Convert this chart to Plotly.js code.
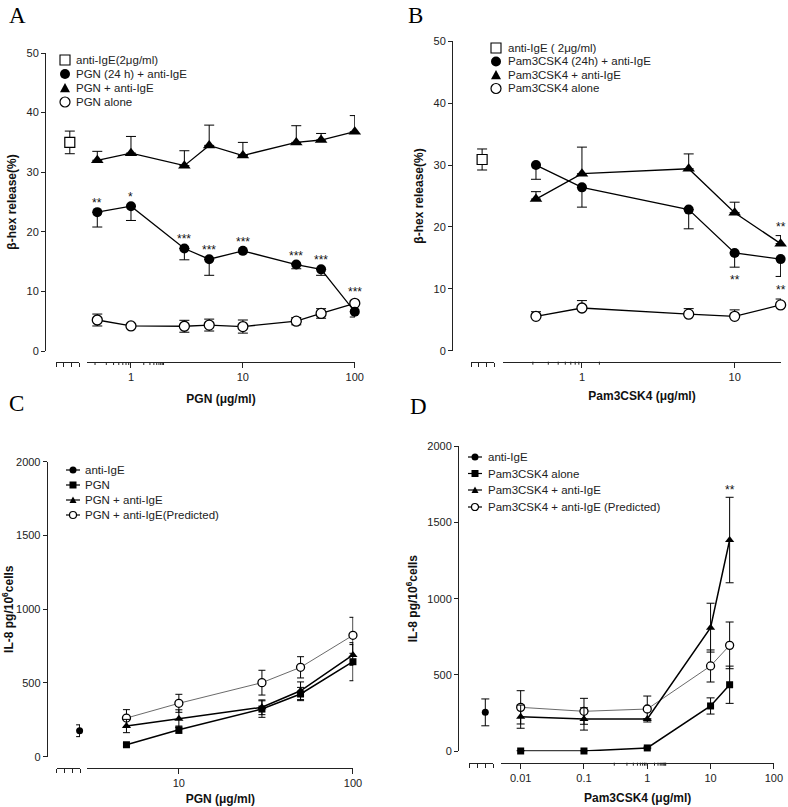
<!DOCTYPE html>
<html><head><meta charset="utf-8">
<script src="https://cdn.plot.ly/plotly-3.0.1.min.js"></script>
<style>html,body{margin:0;padding:0;background:#fff}#plot{width:788px;height:807px}</style>
</head><body><div id="plot"></div>
<script>
// ---------------- DATA ----------------
// Panel A: beta-hex release vs PGN
const A_x = [0.5, 1, 3, 5, 10, 30, 50, 100];
const A_pgn24 = [23.3, 24.3, 17.2, 15.4, 16.8, 14.5, 13.7, 6.6];
const A_pgn24_errDown = [2.5, 2.4, 1.9, 2.7, 0.3, 0.7, 1.0, 0.9];
const A_pgnIgE = [32.0, 33.2, 31.1, 34.5, 32.8, 35.0, 35.4, 36.8];
const A_pgnIgE_errUp = [1.5, 2.8, 2.5, 3.4, 2.2, 2.8, 1.1, 2.7];
const A_pgnAlone = [5.2, 4.2, 4.15, 4.35, 4.1, 5.0, 6.3, 8.0];
const A_pgnAlone_err = [1.0, 0.2, 1.0, 1.0, 1.1, 0.6, 0.8, 0.4];
const A_ctrl_x = [1.8];
const A_ctrl = [35.0];
const A_ctrl_err = [1.9];
const A_sig = ['**', '*', '***', '***', '***', '***', '***', '***'];
const A_ticks = [1, 10, 100];
const A_legend = ['anti-IgE(2\u03bcg/ml)', 'PGN (24 h) + anti-IgE', 'PGN + anti-IgE', 'PGN alone'];

// Panel B: beta-hex release vs Pam3CSK4
const B_x = [0.5, 1, 5, 10, 20];
const B_pam24 = [30.0, 26.4, 22.8, 15.8, 14.8];
const B_pam24_errDown = [2.3, 3.2, 3.1, 2.3, 2.8];
const B_pamIgE = [24.5, 28.6, 29.4, 22.3, 17.3];
const B_pamIgE_errUp = [1.2, 4.3, 2.4, 1.7, 1.3];
const B_pamAlone = [5.55, 6.9, 5.9, 5.55, 7.4];
const B_pamAlone_errUp = [0.75, 1.2, 0.9, 1.05, 0.95];
const B_ctrl_x = [1.45];
const B_ctrl = [30.9];
const B_ctrl_err = [1.7];
const B_sig_x = [10, 20, 20];
const B_sig_series = ['pam24', 'pamIgE', 'pamAlone'];
const B_sig_text = ['**', '**', '**'];
const B_ticks = [1, 10];
const B_legend = ['anti-IgE ( 2\u03bcg/ml)', 'Pam3CSK4 (24h) + anti-IgE', 'Pam3CSK4 + anti-IgE', 'Pam3CSK4 alone'];

// Panel C: IL-8 vs PGN
const C_x = [5, 10, 30, 50, 100];
const C_pgn = [81, 183, 323, 425, 644];
const C_pgn_err = [10, 25, 56, 45, 129];
const C_pgnIgE = [208, 258, 335, 447, 690];
const C_pgnIgE_err = [45, 60, 50, 60, 70];
const C_pred = [262, 362, 502, 606, 823];
const C_pred_err = [57, 61, 84, 72, 122];
const C_ctrl_x = [2.95];
const C_ctrl = [176];
const C_ctrl_err = [40];
const C_ticks = [10, 100];
const C_legend = ['anti-IgE', 'PGN', 'PGN + anti-IgE', 'PGN + anti-IgE(Predicted)'];

// Panel D: IL-8 vs Pam3CSK4
const D_x = [0.01, 0.1, 1, 10, 20];
const D_pam = [2, 2, 22, 297, 436];
const D_pam_err = [2, 2, 5, 53, 122];
const D_pamIgE = [227, 212, 212, 810, 1384];
const D_pamIgE_err = [76, 73, 0, 160, 280];
const D_pred = [288, 262, 277, 559, 694];
const D_pred_err = [109, 85, 85, 105, 153];
const D_ctrl_x = [2.0];
const D_ctrl = [255];
const D_ctrl_err = [88];
const D_sig_x = [20];
const D_sig_text = ['**'];
const D_ticks = [0.01, 0.1, 1, 10, 100];
const D_legend = ['anti-IgE', 'Pam3CSK4 alone', 'Pam3CSK4 + anti-IgE', 'Pam3CSK4 + anti-IgE (Predicted)'];

// ---------------- HELPERS ----------------
const W = 788, H = 807;
const fx = p => p / W;
const fy = p => 1 - p / H;
const F = 'Liberation Sans, Arial, sans-serif';
const zeros = a => a.map(() => 0);

function err(up, down, w) {
  return {type: 'data', symmetric: false, array: up, arrayminus: down, width: w, thickness: 1, color: '#000'};
}
function tr(name, xa, ya, x, y, e, sym, opts) {
  return Object.assign({
    type: 'scatter', name: name, x: x, y: y, xaxis: xa, yaxis: ya, showlegend: false,
    mode: 'lines+markers', cliponaxis: false, hoverinfo: 'skip',
    line: {color: '#000', width: 1.3}, error_y: e,
    marker: sym
  }, opts || {});
}
const filledCircle = s => ({symbol: 'circle', size: s, color: '#000', line: {color: '#000', width: 0}});
const openCircle = s => ({symbol: 'circle', size: s, color: '#fff', line: {color: '#000', width: 1.3}});
const filledTri = s => ({symbol: 'triangle-up', size: s, color: '#000', line: {color: '#000', width: 0}});
const openSquare = s => ({symbol: 'square', size: s, color: '#fff', line: {color: '#000', width: 1.2}});
const filledSquare = s => ({symbol: 'square', size: s, color: '#000', line: {color: '#000', width: 0}});

const traces = [];
// Panel A
traces.push(tr('anti-IgE(2μg/ml)', 'x', 'y', A_ctrl_x, A_ctrl, err(A_ctrl_err, A_ctrl_err, 5), openSquare(10), {mode: 'markers'}));
traces.push(tr('PGN alone', 'x2', 'y', A_x, A_pgnAlone, err(A_pgnAlone_err, A_pgnAlone_err, 5), openCircle(10)));
traces.push(tr('PGN + anti-IgE', 'x2', 'y', A_x, A_pgnIgE, err(A_pgnIgE_errUp, zeros(A_x), 5), filledTri(11)));
traces.push(tr('PGN (24 h) + anti-IgE', 'x2', 'y', A_x, A_pgn24, err(zeros(A_x), A_pgn24_errDown, 5), filledCircle(10)));
// Panel B
traces.push(tr('anti-IgE ( 2μg/ml)', 'x3', 'y3', B_ctrl_x, B_ctrl, err(B_ctrl_err, B_ctrl_err, 5), openSquare(10), {mode: 'markers'}));
traces.push(tr('Pam3CSK4 alone', 'x4', 'y3', B_x, B_pamAlone, err(B_pamAlone_errUp, zeros(B_x), 5), openCircle(10)));
traces.push(tr('Pam3CSK4 + anti-IgE', 'x4', 'y3', B_x, B_pamIgE, err(B_pamIgE_errUp, zeros(B_x), 5), filledTri(11)));
traces.push(tr('Pam3CSK4 (24h) + anti-IgE', 'x4', 'y3', B_x, B_pam24, err(zeros(B_x), B_pam24_errDown, 5), filledCircle(10)));
// Panel C
traces.push(tr('anti-IgE', 'x5', 'y5', C_ctrl_x, C_ctrl, err(C_ctrl_err, C_ctrl_err, 3.5), filledCircle(7), {mode: 'markers'}));
traces.push(tr('PGN + anti-IgE(Predicted)', 'x6', 'y5', C_x, C_pred, err(C_pred_err, C_pred_err, 3.5), openCircle(8), {line: {color: '#444', width: 0.8}}));
traces.push(tr('PGN', 'x6', 'y5', C_x, C_pgn, err(C_pgn_err, C_pgn_err, 3.5), filledSquare(7), {line: {color: '#000', width: 1.5}}));
traces.push(tr('PGN + anti-IgE', 'x6', 'y5', C_x, C_pgnIgE, err(C_pgnIgE_err, C_pgnIgE_err, 3.5), filledTri(8), {line: {color: '#000', width: 1.5}}));
// Panel D
traces.push(tr('anti-IgE', 'x7', 'y7', D_ctrl_x, D_ctrl, err(D_ctrl_err, D_ctrl_err, 4), filledCircle(7), {mode: 'markers'}));
traces.push(tr('Pam3CSK4 + anti-IgE (Predicted)', 'x8', 'y7', D_x, D_pred, err(D_pred_err, D_pred_err, 4), openCircle(8), {line: {color: '#444', width: 0.8}}));
traces.push(tr('Pam3CSK4 alone', 'x8', 'y7', D_x, D_pam, err(D_pam_err, D_pam_err, 4), filledSquare(7), {line: {color: '#000', width: 1.5}}));
traces.push(tr('Pam3CSK4 + anti-IgE', 'x8', 'y7', D_x, D_pamIgE, err(D_pamIgE_err, D_pamIgE_err, 4), filledTri(8), {line: {color: '#000', width: 1.5}}));

// ---------------- AXES ----------------
function ax(extra) {
  return Object.assign({
    showgrid: false, zeroline: false, showline: true, linecolor: '#222', linewidth: 1,
    ticks: 'outside', ticklen: 4, tickwidth: 1, tickcolor: '#222',
    tickfont: {family: F, size: 11, color: '#222'}, fixedrange: true, anchor: 'free'
  }, extra);
}
const titleFont = {family: F, size: 12, color: '#111', weight: 'bold'};
function ctrlAx(d0, d1, ypos) {
  return ax({domain: [fx(d0), fx(d1)], position: fy(ypos), range: [0, 3], tickmode: 'array', tickvals: [0, 1, 2, 3], showticklabels: false});
}
function logAx(d0, d1, ypos, r, majors, title, standoff) {
  return ax({domain: [fx(d0), fx(d1)], position: fy(ypos), type: 'log', range: r, tickmode: 'array',
    tickvals: majors, ticktext: majors.map(String), ticklen: 5,
    title: {text: title, font: titleFont, standoff: standoff}});
}
function yAx(top, bottom, xpos, r, dt, title) {
  return ax({domain: [fy(bottom), fy(top)], position: fx(xpos), range: r, dtick: dt,
    title: {text: title, font: titleFont, standoff: 6}});
}
const rA = [-0.393, 2.002], rB = [-0.517, 1.3035], rC = [0.474, 2.002], rD = [-2.306, 2.002];

const layout = {
  width: W, height: H, margin: {l: 0, r: 0, t: 0, b: 0},
  paper_bgcolor: '#fff', plot_bgcolor: 'rgba(0,0,0,0)', showlegend: false,
  font: {family: F, color: '#222'},
  yaxis: yAx(53, 351, 45, [0, 50], 10, '\u03b2-hex release(%)'),
  xaxis: ctrlAx(56, 79, 362),
  xaxis2: logAx(87, 355, 362, rA, A_ticks, 'PGN (\u03bcg/ml)', 12),
  yaxis3: yAx(41.3, 350.7, 452, [0, 50], 10, '\u03b2-hex release(%)'),
  xaxis3: ctrlAx(471, 494, 361.7),
  xaxis4: logAx(503, 781, 361.7, rB, B_ticks, 'Pam3CSK4 (\u03bcg/ml)', 9),
  yaxis5: yAx(461.7, 756.7, 46.7, [0, 2000], 500, 'IL-8 pg/10<sup>6</sup>cells'),
  xaxis5: ctrlAx(56.7, 80, 767.7),
  xaxis6: logAx(87.3, 353.3, 767.7, rC, C_ticks, 'PGN (\u03bcg/ml)', 6),
  yaxis7: yAx(446, 751.3, 458, [0, 2000], 500, 'IL-8 pg/10<sup>6</sup>cells'),
  xaxis7: ctrlAx(469.3, 493.3, 762.7),
  xaxis8: logAx(501.3, 774, 762.7, rD, D_ticks, 'Pam3CSK4 (\u03bcg/ml)', 10),
  annotations: [], shapes: []
};

// minor (2..9) ticks on each log axis, placed through the axis itself
function minorTicks(xref, r, ypos) {
  for (let d = -3; d <= 2; d++) for (let k = 2; k <= 9; k++) {
    const lv = Math.log10(k) + d;
    if (lv < r[0] || lv > r[1]) continue;
    layout.shapes.push({type: 'line', xref: xref, yref: 'paper', x0: lv, x1: lv, ysizemode: 'pixel', yanchor: fy(ypos),
      y0: 0, y1: -3, line: {color: '#222', width: 1}});
  }
}
minorTicks('x2', rA, 362);
minorTicks('x4', rB, 361.7);
minorTicks('x6', rC, 767.7);
minorTicks('x8', rD, 762.7);

// ---------------- SIGNIFICANCE MARKS ----------------
const sigFont = {family: F, size: 12, color: '#111'};
A_x.forEach((xv, i) => {
  const yv = Math.max(A_pgn24[i], A_pgnAlone[i] + A_pgnAlone_err[i]);
  layout.annotations.push({xref: 'x2', yref: 'y', x: Math.log10(xv), y: yv, text: A_sig[i], showarrow: false, yshift: 9, font: sigFont});
});
const B_series = {
  pam24: {y: B_pam24, lo: B_pam24_errDown, dir: -1},
  pamIgE: {y: B_pamIgE, hi: B_pamIgE_errUp, dir: 1},
  pamAlone: {y: B_pamAlone, hi: B_pamAlone_errUp, dir: 1}
};
B_sig_x.forEach((xv, k) => {
  const s = B_series[B_sig_series[k]];
  const i = B_x.indexOf(xv);
  const yv = s.dir > 0 ? s.y[i] + s.hi[i] : s.y[i] - s.lo[i];
  layout.annotations.push({xref: 'x4', yref: 'y3', x: Math.log10(xv), y: yv, text: B_sig_text[k], showarrow: false,
    yshift: s.dir > 0 ? 9 : -13, font: sigFont});
});
D_sig_x.forEach((xv, k) => {
  const i = D_x.indexOf(xv);
  layout.annotations.push({xref: 'x8', yref: 'y7', x: Math.log10(xv), y: D_pamIgE[i] + D_pamIgE_err[i], text: D_sig_text[k],
    showarrow: false, yshift: 7, font: sigFont});
});

// ---------------- PANEL LETTERS ----------------
const letterFont = {family: 'Liberation Serif, Times New Roman, serif', size: 23, color: '#000'};
[['A', 7, 16], ['B', 406, 16], ['C', 7, 403], ['D', 408, 406]].forEach(l => {
  layout.annotations.push({xref: 'paper', yref: 'paper', x: fx(l[1]), y: fy(l[2]), xanchor: 'left', yanchor: 'middle',
    text: l[0], showarrow: false, font: letterFont});
});

// ---------------- LEGENDS (drawn as keys + text) ----------------
function keyShape(kind, cx, cy, r, withLine) {
  const base = {xref: 'paper', yref: 'paper', xsizemode: 'pixel', ysizemode: 'pixel', xanchor: fx(cx), yanchor: fy(cy)};
  const out = [];
  if (withLine) out.push(Object.assign({}, base, {type: 'line', x0: -7, x1: 7, y0: 0, y1: 0, line: {color: '#000', width: 1.2}}));
  if (kind === 'osq') out.push(Object.assign({}, base, {type: 'rect', x0: -r, x1: r, y0: -r, y1: r, line: {color: '#000', width: 1.1}, fillcolor: '#fff'}));
  if (kind === 'fsq') out.push(Object.assign({}, base, {type: 'rect', x0: -r, x1: r, y0: -r, y1: r, line: {color: '#000', width: 0}, fillcolor: '#000'}));
  if (kind === 'fci') out.push(Object.assign({}, base, {type: 'circle', x0: -r, x1: r, y0: -r, y1: r, line: {color: '#000', width: 0}, fillcolor: '#000'}));
  if (kind === 'oci') out.push(Object.assign({}, base, {type: 'circle', x0: -r, x1: r, y0: -r, y1: r, line: {color: '#000', width: 1.2}, fillcolor: '#fff'}));
  if (kind === 'ftr') out.push(Object.assign({}, base, {type: 'path', path: `M${-r},${-r * 0.85} L${r},${-r * 0.85} L0,${r} Z`, line: {color: '#000', width: 0}, fillcolor: '#000'}));
  return out;
}
function legend(labels, kinds, mx, tx, rows, r, withLine, fs) {
  labels.forEach((t, i) => {
    layout.shapes.push(...keyShape(kinds[i], mx, rows[i], r, withLine));
    layout.annotations.push({xref: 'paper', yref: 'paper', x: fx(tx), y: fy(rows[i]), xanchor: 'left', yanchor: 'middle',
      text: t, showarrow: false, font: {family: F, size: fs, color: '#222'}});
  });
}
legend(A_legend, ['osq', 'fci', 'ftr', 'oci'], 65, 74, [60, 74, 88, 102], 5, false, 11.5);
legend(B_legend, ['osq', 'fci', 'ftr', 'oci'], 496, 506, [48, 61.5, 75, 88.5], 5, false, 11.5);
legend(C_legend, ['fci', 'fsq', 'ftr', 'oci'], 73, 83, [470, 485, 500, 515], 3.5, true, 11.5);
legend(D_legend, ['fci', 'fsq', 'ftr', 'oci'], 475, 486, [457, 473.5, 490, 507], 3.5, true, 11.5);

Plotly.newPlot('plot', traces, layout, {staticPlot: true, displayModeBar: false});
</script></body></html>
